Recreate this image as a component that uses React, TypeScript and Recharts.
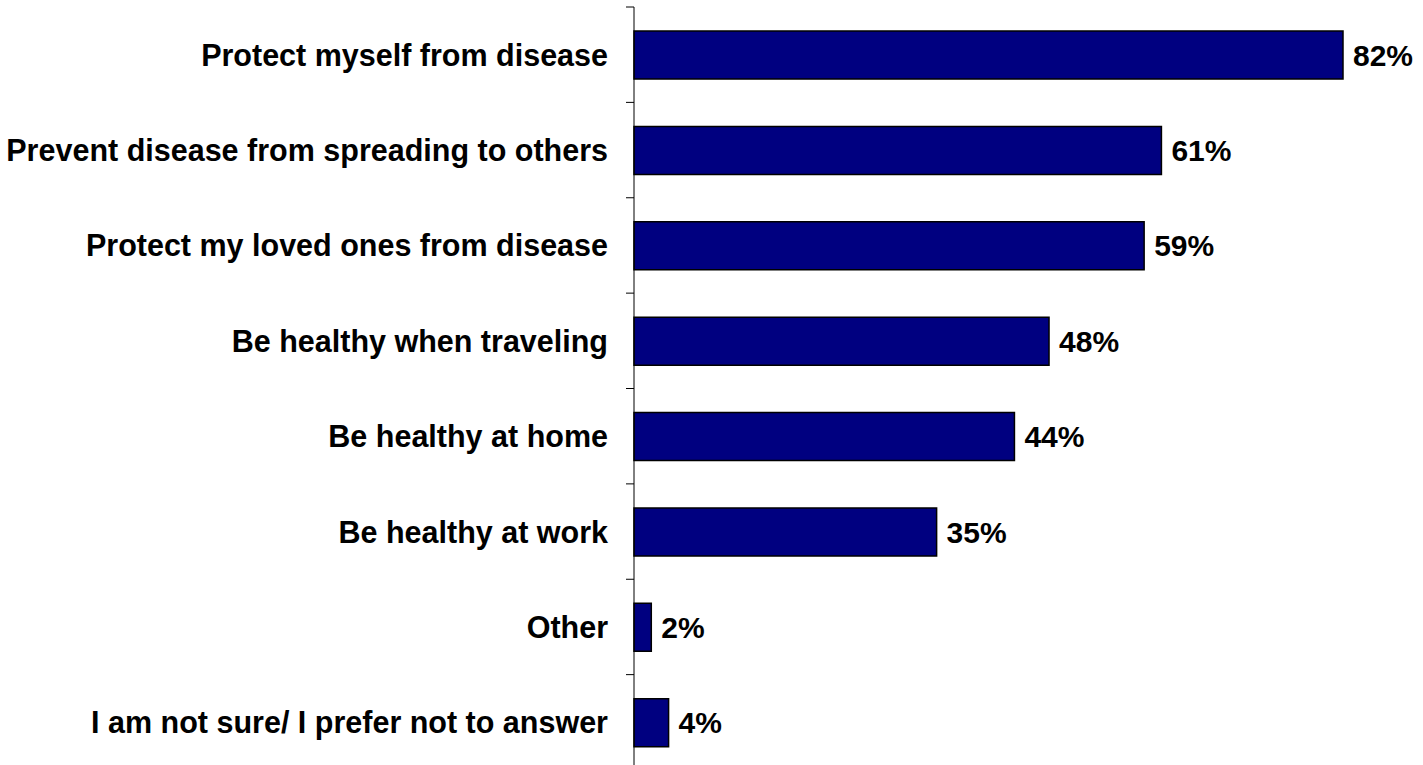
import { BarChart, Bar, XAxis, YAxis, LabelList } from 'recharts';

const categories = [
  'Protect myself from disease',
  'Prevent disease from spreading to others',
  'Protect my loved ones from disease',
  'Be healthy when traveling',
  'Be healthy at home',
  'Be healthy at work',
  'Other',
  'I am not sure/ I prefer not to answer',
];
const values = [82, 61, 59, 48, 44, 35, 2, 4];

const chartData = categories.map((c, i) => ({ name: c, value: values[i] }));

const W = 1423;
const H = 770;
const TOP = 7;
const AXIS_X = 634;
const BAND = (H - TOP) / categories.length;
const FONT = 'Arial, "Liberation Sans", sans-serif';

function CategoryTick(props: any) {
  const { y, payload, index } = props;
  const top = y - BAND / 2;
  return (
    <g>
      <line x1={AXIS_X - 8} x2={AXIS_X} y1={top} y2={top} stroke="#000" strokeWidth={1} />
      {index === categories.length - 1 && (
        <line x1={AXIS_X - 8} x2={AXIS_X} y1={y + BAND / 2} y2={y + BAND / 2} stroke="#000" strokeWidth={1} />
      )}
      <text
        x={AXIS_X - 26}
        y={y}
        dy="0.36em"
        textAnchor="end"
        fontFamily={FONT}
        fontWeight="bold"
        fontSize={30.5}
        fill="#000"
      >
        {payload.value}
      </text>
    </g>
  );
}

export default function App() {
  return (
    <div style={{ position: 'fixed', left: 0, top: 0, width: W, height: 765, overflow: 'hidden', background: '#fff' }}>
      <BarChart
        width={W}
        height={H}
        data={chartData}
        layout="vertical"
        margin={{ top: TOP, right: W - 1343, bottom: 0, left: 0 }}
      >
        <XAxis type="number" domain={[0, 82]} hide />
        <YAxis
          type="category"
          dataKey="name"
          width={AXIS_X}
          axisLine={{ stroke: '#000', strokeWidth: 1 }}
          tickLine={false}
          tick={<CategoryTick />}
          interval={0}
        />
        <Bar dataKey="value" fill="#000080" stroke="#000" strokeWidth={1.5} barSize={48} isAnimationActive={false}>
          <LabelList
            dataKey="value"
            position="right"
            offset={10}
            formatter={(v: any) => `${v}%`}
            style={{ fontFamily: FONT, fontWeight: 'bold', fontSize: 30, fill: '#000' }}
          />
        </Bar>
      </BarChart>
    </div>
  );
}
